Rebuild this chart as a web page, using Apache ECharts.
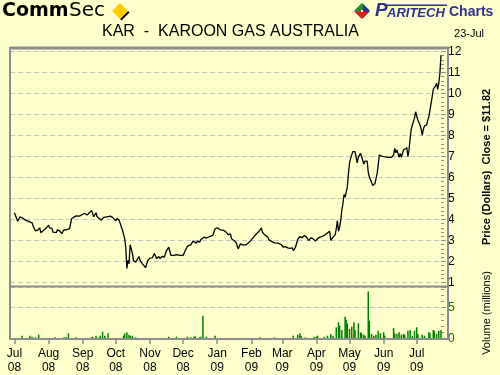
<!DOCTYPE html>
<html><head><meta charset="utf-8">
<script src="https://cdn.jsdelivr.net/npm/echarts@6/dist/echarts.min.js"></script>
<style>html,body{margin:0;padding:0;background:#FFFFCC;}#c{width:500px;height:375px;}</style>
</head><body><div id="c"></div>
<script>
// ---- data ----
const priceDates = [
'2008-07-01','2008-07-04','2008-07-06','2008-07-08','2008-07-09','2008-07-11','2008-07-12','2008-07-15','2008-07-17','2008-07-18','2008-07-20','2008-07-22','2008-07-24','2008-07-25','2008-07-27','2008-07-30',
'2008-08-01','2008-08-02','2008-08-04','2008-08-05','2008-08-08','2008-08-09','2008-08-11','2008-08-13','2008-08-15','2008-08-17','2008-08-20','2008-08-22','2008-08-23','2008-08-26','2008-08-29',
'2008-09-01','2008-09-03','2008-09-05','2008-09-07','2008-09-09','2008-09-11','2008-09-13','2008-09-14','2008-09-16','2008-09-18','2008-09-20','2008-09-23','2008-09-26','2008-09-28','2008-09-29',
'2008-10-01','2008-10-02','2008-10-04','2008-10-05','2008-10-07','2008-10-09','2008-10-10','2008-10-11','2008-10-12','2008-10-13','2008-10-14','2008-10-16','2008-10-17','2008-10-19','2008-10-20','2008-10-22','2008-10-23','2008-10-25','2008-10-28','2008-10-30',
'2008-11-01','2008-11-03','2008-11-05','2008-11-07','2008-11-09','2008-11-10','2008-11-12','2008-11-14','2008-11-16','2008-11-18','2008-11-19','2008-11-20','2008-11-23','2008-11-25','2008-11-28',
'2008-12-01','2008-12-02','2008-12-03','2008-12-05','2008-12-08','2008-12-10','2008-12-11','2008-12-13','2008-12-14','2008-12-16','2008-12-17','2008-12-20','2008-12-22','2008-12-25','2008-12-28','2008-12-30',
'2009-01-01','2009-01-04','2009-01-07','2009-01-09','2009-01-11','2009-01-13','2009-01-14','2009-01-16','2009-01-18','2009-01-19','2009-01-20','2009-01-22','2009-01-24','2009-01-27','2009-01-28','2009-01-31',
'2009-02-01','2009-02-03','2009-02-05','2009-02-08','2009-02-10','2009-02-11','2009-02-13','2009-02-16','2009-02-17','2009-02-19','2009-02-22','2009-02-25','2009-02-28',
'2009-03-02','2009-03-04','2009-03-06','2009-03-08','2009-03-10','2009-03-11','2009-03-13','2009-03-15','2009-03-17','2009-03-19','2009-03-21','2009-03-23','2009-03-25','2009-03-27','2009-03-29','2009-03-31',
'2009-04-02','2009-04-04','2009-04-06','2009-04-08','2009-04-10','2009-04-13','2009-04-14','2009-04-16','2009-04-18','2009-04-19','2009-04-20','2009-04-21','2009-04-22','2009-04-23','2009-04-24','2009-04-25','2009-04-26','2009-04-27','2009-04-28','2009-04-29','2009-04-30',
'2009-05-01','2009-05-02','2009-05-03','2009-05-04','2009-05-06','2009-05-08','2009-05-09','2009-05-11','2009-05-12','2009-05-14','2009-05-15','2009-05-17','2009-05-18','2009-05-19','2009-05-21','2009-05-22','2009-05-24','2009-05-25','2009-05-26','2009-05-27','2009-05-28','2009-05-30',
'2009-06-01','2009-06-02','2009-06-05','2009-06-08','2009-06-10','2009-06-11','2009-06-12','2009-06-13','2009-06-14','2009-06-15','2009-06-16','2009-06-17','2009-06-19','2009-06-20','2009-06-22','2009-06-23','2009-06-24','2009-06-25','2009-06-26','2009-06-27','2009-06-28','2009-06-29','2009-06-30',
'2009-07-01','2009-07-02','2009-07-04','2009-07-05','2009-07-06','2009-07-07','2009-07-08','2009-07-10','2009-07-11','2009-07-12','2009-07-13','2009-07-14','2009-07-15','2009-07-16','2009-07-17','2009-07-18','2009-07-19','2009-07-20','2009-07-21','2009-07-22','2009-07-23'
];
const prices = [
4.32,3.92,4.13,4.08,4.13,3.97,4.05,3.89,3.84,3.68,3.46,3.49,3.6,3.37,3.46,3.6,
3.73,3.6,3.59,3.4,3.37,3.51,3.46,3.33,3.51,3.51,3.56,4.05,4.13,4.17,4.16,
4.25,4.29,4.21,4.32,4.43,4.13,4.32,4.13,4.05,3.97,4.1,4.13,4.16,4.1,4.14,
3.94,4.05,3.97,3.81,3.49,3.1,2.7,1.67,2.05,1.9,2.8,2.4,2.05,1.97,1.9,2.24,2.05,1.9,1.71,2.05,
2.16,2.17,2.38,2.14,2.24,2.14,2.24,2.21,2.52,2.68,2.49,2.29,2.29,2.33,2.29,
2.29,2.25,2.52,2.73,2.79,2.97,2.97,2.87,2.97,2.92,3.03,3.16,3.11,3.19,3.24,3.56,
3.6,3.51,3.48,3.4,3.27,3.32,3.08,3.0,2.92,3.0,2.6,2.84,2.79,2.79,2.81,2.97,
3.03,3.16,3.29,3.44,3.6,3.4,3.27,3.16,3.03,2.97,2.89,2.87,2.81,
2.68,2.71,2.65,2.63,2.65,2.52,2.68,3.05,3.19,3.13,3.24,3.16,3.0,3.13,3.08,2.97,
3.08,3.16,3.19,3.24,3.32,3.44,3.0,3.16,3.27,3.56,3.95,3.44,3.63,3.95,4.43,4.75,5.19,5.06,5.3,5.54,6.17,
6.68,6.91,7.07,7.23,7.23,6.7,6.96,7.15,6.99,6.64,6.78,6.78,6.25,6.02,5.78,5.62,5.7,5.73,6.17,6.57,7.07,7.02,
6.99,6.91,6.96,6.96,7.07,7.39,7.18,7.31,7.15,6.96,7.15,6.96,7.31,7.39,7.42,6.99,7.31,7.87,8.3,8.5,8.66,8.85,9.13,
8.93,8.74,8.5,8.3,8.02,8.3,8.46,8.5,8.74,8.9,9.21,9.53,9.85,10.2,10.25,10.36,10.49,10.2,10.49,10.96,11.82
];
const volumeDates = [
'2008-07-05','2008-07-08','2008-07-15','2008-07-17','2008-07-20','2008-07-23','2008-08-07','2008-08-15','2008-08-17','2008-08-19','2008-08-26',
'2008-09-09','2008-09-10','2008-09-13','2008-09-16','2008-09-17','2008-09-19','2008-09-21','2008-09-24','2008-09-29',
'2008-10-08','2008-10-09','2008-10-11','2008-10-13','2008-10-14','2008-10-16','2008-10-19','2008-10-28',
'2008-11-07','2008-11-18','2008-11-25',
'2008-12-05','2008-12-08','2008-12-11','2008-12-12','2008-12-14','2008-12-16','2008-12-17','2008-12-19','2008-12-22','2008-12-30',
'2009-01-07','2009-01-21','2009-02-03','2009-02-06','2009-02-09','2009-02-21','2009-02-22',
'2009-03-02','2009-03-11','2009-03-15','2009-03-17','2009-03-18','2009-03-22','2009-03-24','2009-03-30',
'2009-04-01','2009-04-02','2009-04-08','2009-04-11','2009-04-14','2009-04-16','2009-04-19','2009-04-21','2009-04-22','2009-04-24','2009-04-27','2009-04-28','2009-04-29',
'2009-05-01','2009-05-03','2009-05-05','2009-05-06','2009-05-09','2009-05-11','2009-05-12','2009-05-14','2009-05-15','2009-05-18','2009-05-19','2009-05-21','2009-05-23','2009-05-25','2009-05-27','2009-05-29',
'2009-06-01','2009-06-02','2009-06-10','2009-06-11','2009-06-13','2009-06-15','2009-06-17','2009-06-19','2009-06-20','2009-06-23','2009-06-25','2009-06-27','2009-06-29',
'2009-07-01','2009-07-02','2009-07-06','2009-07-08','2009-07-12','2009-07-13','2009-07-16','2009-07-17','2009-07-19','2009-07-21','2009-07-23'
];
const volumes = [
0.16,0.53,0.53,0.37,0.27,0.69,0.27,0.27,0.27,0.9,0.27,
0.27,0.37,0.53,0.27,0.53,1.17,0.53,0.9,0.16,
0.53,0.9,1.06,0.69,0.53,0.53,0.27,0.16,
0.16,0.37,0.37,
0.37,0.27,0.37,0.43,0.16,0.27,0.37,3.72,0.37,0.53,
0.16,0.16,0.16,0.16,0.27,0.16,0.27,
0.16,0.53,0.69,0.9,0.53,0.27,0.16,0.37,
0.37,0.53,0.37,0.53,0.8,0.53,1.86,2.66,2.13,1.44,3.56,3.09,2.5,
1.6,1.97,2.66,1.44,2.5,1.06,0.9,0.69,0.53,7.6,2.93,0.8,0.53,0.69,1.33,0.9,
1.06,0.53,1.76,0.9,0.8,1.06,0.69,0.8,0.69,1.33,1.44,0.53,1.33,
1.86,0.8,0.69,0.53,1.06,0.9,1.44,1.22,0.8,1.33,1.44
];
const monthTicks = ['2008-07-01','2008-08-01','2008-09-01','2008-10-01','2008-11-01','2008-12-01','2009-01-01','2009-02-01','2009-03-01','2009-04-01','2009-05-01','2009-06-01','2009-07-01'];
const monthNames = ['Jan','Feb','Mar','Apr','May','Jun','Jul','Aug','Sep','Oct','Nov','Dec'];
const priceTicks = [1,2,3,4,5,6,7,8,9,10,11,12];
const volumeTicks = [0,5];
const title = 'KAR  -  KAROON GAS AUSTRALIA';
const dateLabel = '23-Jul';
const priceAxisName = 'Price (Dollars)  Close = $11.82';
const volumeAxisName = 'Volume (millions)';

// ---- helpers ----
function toTs(s){const p=s.split('-').map(Number);return new Date(p[0],p[1]-1,p[2]).getTime();}
const xMin = toTs('2008-06-27'), xMax = toTs('2009-07-23');
const monthTs = monthTicks.map(toTs);
const frameColor = '#8c8c8c';
const gridColor = '#c6c6c0';
const FONT = '"Liberation Sans", Arial, sans-serif';
const navy = '#2e3192';

const chart = echarts.init(document.getElementById('c'), null, {renderer:'canvas', width:500, height:375});
chart.setOption({
  backgroundColor: '#FFFFCC',
  animation: false,
  textStyle: {fontFamily: FONT},
  grid: [
    {left:10, right:53, top:51.5, height:231},
    {left:10, right:53, top:287, height:52}
  ],
  xAxis: [
    {type:'value', gridIndex:0, min:xMin, max:xMax, axisLine:{show:false}, axisTick:{show:false}, axisLabel:{show:false}, splitLine:{show:false}},
    {type:'value', gridIndex:1, min:xMin, max:xMax, axisLine:{show:false}, splitLine:{show:false},
      axisTick:{show:true, customValues: monthTs, length:5, lineStyle:{color:frameColor, width:1.5}},
      axisLabel:{customValues: monthTs, margin:7, fontSize:12, lineHeight:14.5, color:'#000', fontFamily:FONT,
        formatter: v => { const d = new Date(v); return monthNames[d.getMonth()] + '\n' + String(d.getFullYear()).slice(2); }}}
  ],
  yAxis: [
    {type:'value', gridIndex:0, position:'right', min:priceTicks[0], max:priceTicks[priceTicks.length-1], interval:1,
      axisLine:{show:false},
      axisTick:{show:true, length:5, lineStyle:{color:frameColor, width:1}},
      minorTick:{show:true, splitNumber:5, length:3, lineStyle:{color:frameColor}},
      splitLine:{show:true, lineStyle:{color:gridColor, type:[5,3], width:1}},
      axisLabel:{color:'#000', fontSize:12, margin:7, fontFamily:FONT},
      name: priceAxisName, nameLocation:'middle', nameRotate:90, nameGap:40,
      nameTextStyle:{fontWeight:'bold', fontSize:11, color:'#000', fontFamily:FONT}},
    {type:'value', gridIndex:1, position:'right', min:volumeTicks[0], max:8.3, interval:5,
      axisLine:{show:false},
      axisTick:{show:true, length:5, lineStyle:{color:frameColor, width:1}},
      minorTick:{show:true, splitNumber:5, length:3, lineStyle:{color:frameColor}},
      splitLine:{show:true, lineStyle:{color:gridColor, type:[5,3], width:1}},
      axisLabel:{color:'#008000', fontSize:12, margin:7, showMaxLabel:false, fontFamily:FONT},
      name: volumeAxisName, nameLocation:'middle', nameRotate:90, nameGap:40,
      nameTextStyle:{fontSize:11, color:'#000', fontFamily:FONT}}
  ],
  series: [
    {type:'line', xAxisIndex:0, yAxisIndex:0, symbol:'none', lineStyle:{color:'#000', width:1.3},
      data: priceDates.map((d,i)=>[toTs(d), prices[i]])},
    {type:'bar', xAxisIndex:1, yAxisIndex:1, barWidth:1.5, itemStyle:{color:'#008000'},
      data: volumeDates.map((d,i)=>[toTs(d), volumes[i]])}
  ],
  graphic: [
    {type:'rect', z:100, shape:{x:10, y:48, width:438, height:291}, style:{fill:null, stroke:frameColor, lineWidth:2}},
    {type:'line', z:100, shape:{x1:10, y1:48, x2:449, y2:48}, style:{stroke:frameColor, lineWidth:3}},
    {type:'line', z:100, shape:{x1:10, y1:286.5, x2:449, y2:286.5}, style:{stroke:frameColor, lineWidth:2}},
    {type:'text', z:100, x:230.5, y:32, style:{text:title, font:'16px '+FONT, fill:'#000', align:'center', verticalAlign:'middle'}},
    {type:'text', z:100, x:469, y:34, style:{text:dateLabel, font:'11px '+FONT, fill:'#000', align:'center', verticalAlign:'middle'}},
    {type:'text', z:100, x:2, y:11, style:{text:'Comm', font:'bold 19px "DejaVu Sans", sans-serif', fill:'#000', align:'left', verticalAlign:'middle'}},
    {type:'text', z:100, x:69, y:11, style:{text:'Sec', font:'20px "DejaVu Sans", sans-serif', fill:'#000', align:'left', verticalAlign:'middle'}},
    {type:'polygon', z:100, shape:{points:[[128,11],[129.5,12.5],[121.5,20.5],[120,19]]}, style:{fill:'#000'}},
    {type:'polygon', z:101, shape:{points:[[120,3],[128,11],[120,19],[112,11]]}, style:{fill:'#FFCC00'}},
    {type:'polygon', z:100, shape:{points:[[362,3],[369,10],[355,10]]}, style:{fill:'#2e8b3a'}},
    {type:'polygon', z:100, shape:{points:[[354,11],[361,4],[361,18]]}, style:{fill:'#2e8b3a'}},
    {type:'polygon', z:100, shape:{points:[[370,11],[363,4],[363,18]]}, style:{fill:'#2e3192'}},
    {type:'polygon', z:100, shape:{points:[[355,12],[369,12],[362,19]]}, style:{fill:'#d42020'}},
    {type:'rect', z:100, shape:{x:384, y:4.5, width:63, height:1.5}, style:{fill:navy}},
    {type:'text', z:100, x:375, y:20, style:{text:'P', font:'italic bold 19px '+FONT, fill:navy, align:'left', verticalAlign:'bottom'}},
    {type:'text', z:100, x:387, y:19.5, style:{text:'ARITECH', font:'italic bold 13px '+FONT, fill:navy, align:'left', verticalAlign:'bottom'}},
    {type:'text', z:100, x:449, y:19.5, style:{text:'Charts', font:'bold 14px '+FONT, fill:navy, align:'left', verticalAlign:'bottom'}}
  ]
});
</script>
</body></html>
